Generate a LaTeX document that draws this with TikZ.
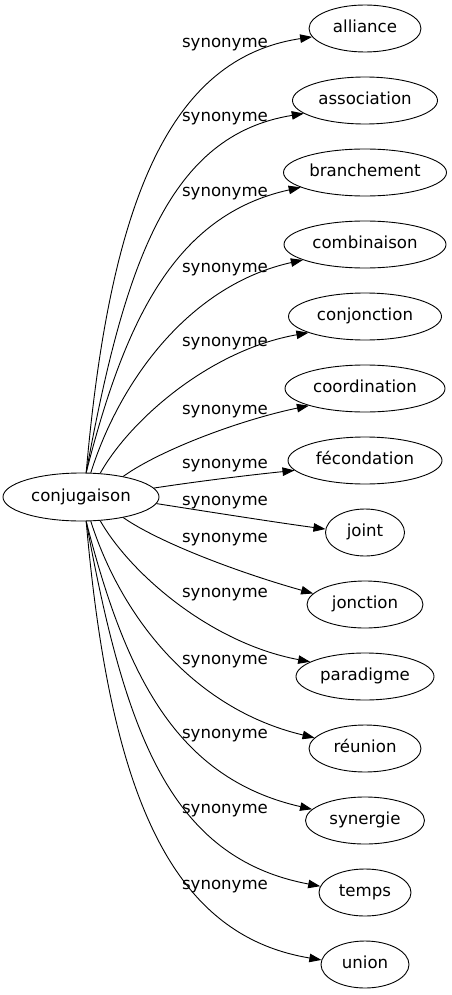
\documentclass[tikz,border=0pt]{standalone}
\usepackage{fontspec}
\setmainfont{DejaVu Sans}
\usetikzlibrary{shapes.geometric,arrows.meta}
\begin{document}
\begin{tikzpicture}[x=1pt,y=-1pt,
  every node/.style={font=\fontsize{16.6}{20}\selectfont, text height=12.6pt, text depth=4pt, inner sep=0pt},
  word/.style={ellipse, draw, line width=0.9pt, minimum height=47pt},
  lab/.style={},
  edge/.style={line width=0.9pt, -{Triangle[length=12pt,width=8.5pt]}}]
\useasboundingbox (0,0) rectangle (452,995);
% nodes
\node[word, minimum width=156pt, minimum height=48pt] (conj) at (81,497) {conjugaison};
\node[word, minimum width=112pt] (n0) at (365,28.5) {alliance};
\node[word, minimum width=145pt] (n1) at (365,100.5) {association};
\node[word, minimum width=163pt] (n2) at (365,172.5) {branchement};
\node[word, minimum width=162pt] (n3) at (365,244.5) {combinaison};
\node[word, minimum width=153pt] (n4) at (365,316.5) {conjonction};
\node[word, minimum width=160pt] (n5) at (365,388.5) {coordination};
\node[word, minimum width=154pt] (n6) at (365,460.5) {fécondation};
\node[word, minimum width=79pt]  (n7) at (365,532.5) {joint};
\node[word, minimum width=116pt] (n8) at (365,604.5) {jonction};
\node[word, minimum width=138pt] (n9) at (365,676.5) {paradigme};
\node[word, minimum width=112pt] (n10) at (365,748.5) {réunion};
\node[word, minimum width=119pt] (n11) at (365,820.5) {synergie};
\node[word, minimum width=92pt]  (n12) at (365,892.5) {temps};
\node[word, minimum width=88pt]  (n13) at (365,964.5) {union};
% labels
\node[lab] (l0) at (225,43) {synonyme};
\node[lab] (l1) at (225,117) {synonyme};
\node[lab] (l2) at (225,192) {synonyme};
\node[lab] (l3) at (225,268) {synonyme};
\node[lab] (l4) at (225,342) {synonyme};
\node[lab] (l5) at (225,410) {synonyme};
\node[lab] (l6) at (225,464) {synonyme};
\node[lab] (l7) at (225,501) {synonyme};
\node[lab] (l8) at (225,538) {synonyme};
\node[lab] (l9) at (225,593) {synonyme};
\node[lab] (l10) at (225,660) {synonyme};
\node[lab] (l11) at (225,734) {synonyme};
\node[lab] (l12) at (225,809) {synonyme};
\node[lab] (l13) at (225,885) {synonyme};
% edges
\draw[edge] (conj.78) .. controls (110,200) and (170,58) .. (n0.189);
\draw[edge] (conj.78) .. controls (125,260) and (170,135) .. (n1.192);
\draw[edge] (conj.78) .. controls (125,320) and (175,215) .. (n2.193);
\draw[edge] (conj.68) .. controls (120,380) and (190,285) .. (n3.194);
\draw[edge] (conj.51) .. controls (130,420) and (210,350) .. (n4.196);
\draw[edge] (conj.26) .. controls (160,450) and (240,420) .. (n5.197);
\draw[edge] (conj.7) .. controls (200,481) and (250,475) .. (n6.188);
\draw[edge] (conj.355) .. controls (210,512) and (280,523) .. (n7.175);
\draw[edge] (conj.334) .. controls (160,543) and (240,573) .. (n8.168);
\draw[edge] (conj.309) .. controls (130,573) and (210,643) .. (n9.165);
\draw[edge] (conj.292) .. controls (120,613) and (190,708) .. (n10.168);
\draw[edge] (conj.282) .. controls (125,673) and (175,778) .. (n11.168);
\draw[edge] (conj.282) .. controls (125,733) and (170,858) .. (n12.172);
\draw[edge] (conj.282) .. controls (110,793) and (170,935) .. (n13.174);
\end{tikzpicture}
\end{document}
